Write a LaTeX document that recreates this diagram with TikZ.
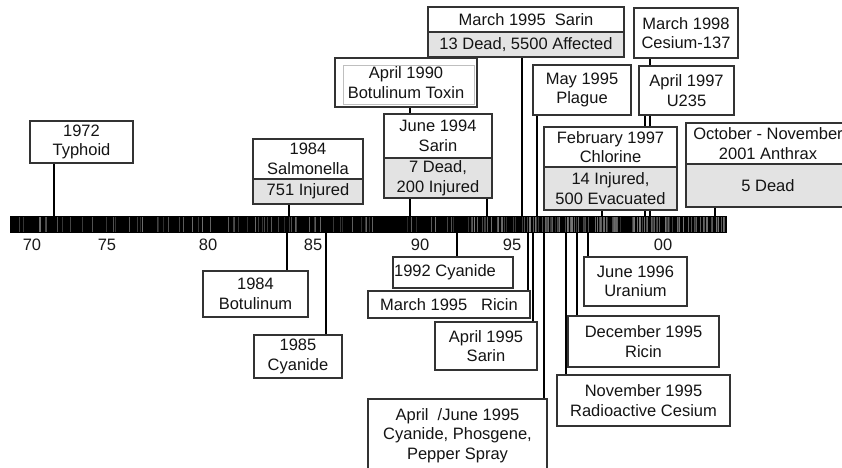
\documentclass[tikz,border=0pt]{standalone}
\usepackage{fontspec}
\setmainfont{Liberation Sans}
\usetikzlibrary{fit,backgrounds}
\newcommand\ebox[7]{%
  \pgfmathsetmacro\evW{#5-#3}\pgfmathsetmacro\evH{#6-#4}%
  \pgfmathsetmacro\evX{(#3+#5)/2}\pgfmathsetmacro\evY{(#4+#6)/2}%
  \node[#1, minimum width=\evW pt, minimum height=\evH pt] (#2) at (\evX,\evY) {#7};}
\begin{document}
\begin{tikzpicture}[x=1pt,y=-1pt,
  evbox/.style={draw=black!80, line width=1.2pt, fill=white, inner sep=0pt, align=center, text=black!92, font=\fontsize{16.5}{19.5}\selectfont},
  graybox/.style={evbox, fill=black!11},
  stem/.style={line width=1.8pt, black},
  ticklab/.style={font=\fontsize{16.5}{19.5}\selectfont, text=black!90, inner sep=0pt}]
\useasboundingbox (0,0) rectangle (842,467);
\clip (0,0) rectangle (842,467);
% time bar
\node[fill=black, inner sep=0pt, fit={(10,216)(727,233)}] (bar) {};
\pgfmathsetseed{12}
\foreach \i in {1,...,120}{
  \pgfmathsetmacro\xx{12+713*rnd}
  \pgfmathsetmacro\ww{0.3+0.7*rnd}
  \pgfmathtruncatemacro\gg{55+30*rnd}
  \draw[black!\gg, line width=\ww pt] (\xx,217) -- (\xx,232);
}
\foreach \i in {1,...,90}{
  \pgfmathsetmacro\xx{470+255*rnd}
  \pgfmathsetmacro\ww{0.3+0.7*rnd}
  \pgfmathtruncatemacro\gg{50+30*rnd}
  \draw[black!\gg, line width=\ww pt] (\xx,217) -- (\xx,232);
}
% tick labels
\node[ticklab] (t70) at (32,245) {70};
\node[ticklab] (t75) at (107,245) {75};
\node[ticklab] (t80) at (208,245) {80};
\node[ticklab] (t85) at (313,245) {85};
\node[ticklab] (t90) at (420,245) {90};
\node[ticklab] (t95) at (512,245) {95};
\node[ticklab] (t00) at (663,245) {00};
% upper boxes
\ebox{evbox}{typhoid}{30}{121}{133}{163}{1972\\Typhoid}
\ebox{evbox}{salmt}{253}{139}{363}{179}{1984\\Salmonella}
\ebox{graybox}{salmb}{253}{179}{363}{204}{751 Injured}
\ebox{evbox}{apr90}{335}{58}{477}{107}{April 1990\\Botulinum Toxin}
\draw[black!25, line width=0.5pt] (343,65) rectangle (474,104);
\ebox{evbox}{jun94t}{384}{114}{492}{158}{June 1994\\Sarin}
\ebox{graybox}{jun94b}{384}{158}{492}{198}{7 Dead,\\200 Injured}
\ebox{evbox}{mar95t}{428}{7}{624}{32}{March 1995~~Sarin}
\ebox{graybox}{mar95b}{428}{32}{624}{57}{13 Dead, 5500 Affected}
\ebox{evbox}{may95}{533}{65}{631}{115}{May 1995\\Plague}
\ebox{evbox}{feb97t}{544}{127}{677}{167}{February 1997\\Chlorine}
\ebox{graybox}{feb97b}{544}{167}{677}{210}{14 Injured,\\500 Evacuated}
\ebox{evbox}{mar98}{634}{8}{738}{58}{March 1998\\Cesium-137}
\ebox{evbox}{apr97}{639}{66}{734}{115}{April 1997\\U235}
\ebox{evbox}{oct01t}{686}{123}{850}{164}{October - November\\2001 Anthrax}
\ebox{graybox}{oct01b}{686}{164}{850}{207}{5 Dead}
% lower boxes
\ebox{evbox}{bot84}{203}{271}{308}{317}{1984\\Botulinum}
\ebox{evbox}{cy85}{254}{335}{342}{378}{1985\\Cyanide}
\ebox{evbox}{cy92}{393}{257}{513}{288}{1992 Cyanide\hspace*{16pt}}
\ebox{evbox}{ric95}{368}{291}{530}{318}{March 1995~~~Ricin}
\ebox{evbox}{sar95}{435}{322}{537}{370}{April 1995\\Sarin}
\ebox{evbox}{apj95}{368}{399}{547}{472}{April~~/June 1995\\Cyanide, Phosgene,\\Pepper Spray}
\ebox{evbox}{jun96}{584}{257}{687}{306}{June 1996\\Uranium}
\ebox{evbox}{dec95}{568}{316}{719}{367}{December 1995\\Ricin}
\ebox{evbox}{nov95}{557}{375}{730}{426}{November 1995\\Radioactive Cesium}
% stems
\foreach \v in {54,289,410,487,522,537,602,645,650,715,287,326,457,528,533,544,566,577,588}{
  \coordinate (c\v) at (\v,0);
}
\begin{scope}[on background layer]
\draw[stem] (c54 |- typhoid.south) -- (c54 |- bar.north);
\draw[stem] (c289 |- salmb.south) -- (c289 |- bar.north);
\draw[stem] (c410 |- apr90.south) -- (c410 |- bar.north);
\draw[stem] (c487 |- jun94b.south) -- (c487 |- bar.north);
\draw[stem] (c522 |- mar95b.south) -- (c522 |- bar.north);
\draw[stem] (c537 |- may95.south) -- (c537 |- bar.north);
\draw[stem] (c602 |- feb97b.south) -- (c602 |- bar.north);
\draw[stem] (c645 |- apr97.south) -- (c645 |- bar.north);
\draw[stem] (c650 |- mar98.south) -- (c650 |- bar.north);
\draw[stem] (c715 |- oct01b.south) -- (c715 |- bar.north);
\draw[stem] (c287 |- bar.south) -- (c287 |- bot84.north);
\draw[stem] (c326 |- bar.south) -- (c326 |- cy85.north);
\draw[stem] (c457 |- bar.south) -- (c457 |- cy92.north);
\draw[stem] (c528 |- bar.south) -- (c528 |- ric95.north);
\draw[stem] (c533 |- bar.south) -- (c533 |- sar95.north);
\draw[stem] (c544 |- bar.south) -- (c544 |- apj95.north);
\draw[stem] (c566 |- bar.south) -- (c566 |- nov95.north);
\draw[stem] (c577 |- bar.south) -- (c577 |- dec95.north);
\draw[stem] (c588 |- bar.south) -- (c588 |- jun96.north);
\end{scope}
\end{tikzpicture}
\end{document}
